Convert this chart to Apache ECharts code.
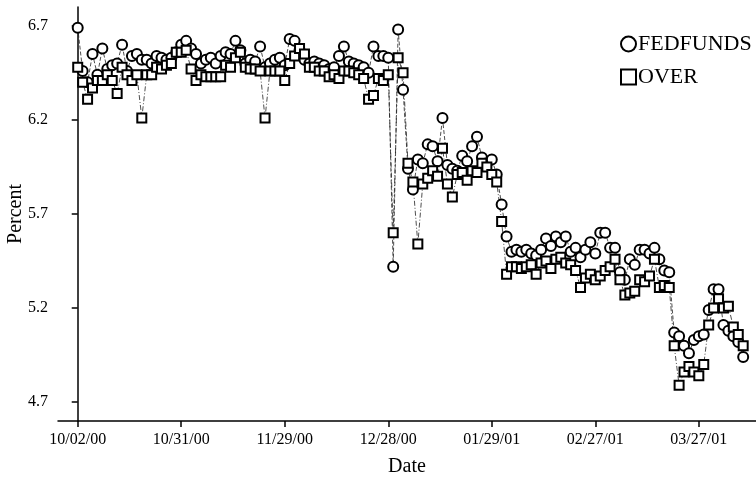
<!DOCTYPE html>
<html>
<head>
<meta charset="utf-8">
<script src="https://cdn.jsdelivr.net/npm/echarts@6/dist/echarts.min.js"></script>
<style>html,body{margin:0;padding:0;background:#fff;}#c{width:756px;height:477px;}</style>
</head>
<body>
<div id="c"></div>
<script>
// Observation index of each tick and its date label
const tickIndex = [0, 21, 42, 63, 84, 105, 126];
const tickLabels = ["10/02/00", "10/31/00", "11/29/00", "12/28/00", "01/29/01", "02/27/01", "03/27/01"];
const yTicks = [4.7, 5.2, 5.7, 6.2, 6.7];

// Daily observations (one value per trading day, starting 10/02/00)
const fedfunds = [
6.69,6.46,6.40,6.55,6.44,6.58,6.47,6.49,6.50,6.60,
6.46,6.54,6.55,6.52,6.52,6.50,6.54,6.53,6.52,6.53,
6.56,6.60,6.62,6.58,6.55,6.50,6.52,6.53,6.50,6.54,
6.56,6.55,6.62,6.57,6.50,6.52,6.51,6.59,6.48,6.50,
6.52,6.53,6.49,6.63,6.62,6.57,6.52,6.50,6.51,6.50,
6.49,6.47,6.48,6.54,6.59,6.51,6.50,6.49,6.48,6.45,
6.59,6.54,6.54,6.53,5.42,6.68,6.36,5.94,5.83,5.99,
5.97,6.07,6.06,5.98,6.21,5.96,5.94,5.93,6.01,5.98,
6.06,6.11,6.00,5.97,5.99,5.91,5.75,5.58,5.50,5.51,
5.50,5.51,5.49,5.48,5.51,5.57,5.53,5.58,5.55,5.58,
5.50,5.52,5.47,5.51,5.55,5.49,5.60,5.60,5.52,5.52,
5.39,5.35,5.46,5.43,5.51,5.51,5.49,5.52,5.46,5.40,
5.39,5.07,5.05,5.00,4.96,5.03,5.05,5.06,5.19,5.30,
5.30,5.11,5.08,5.05,5.02,4.94];
const over = [
6.48,6.40,6.31,6.37,6.41,6.41,6.44,6.41,6.34,6.48,
6.44,6.41,6.44,6.21,6.44,6.44,6.48,6.47,6.49,6.50,
6.56,6.56,6.57,6.47,6.41,6.44,6.43,6.43,6.43,6.43,
6.49,6.48,6.53,6.56,6.48,6.47,6.47,6.46,6.21,6.46,
6.46,6.46,6.41,6.50,6.54,6.58,6.55,6.48,6.48,6.46,
6.46,6.43,6.44,6.42,6.46,6.46,6.45,6.44,6.42,6.31,
6.33,6.42,6.41,6.44,5.60,6.53,6.45,5.97,5.87,5.54,
5.86,5.89,5.93,5.90,6.05,5.86,5.79,5.91,5.92,5.88,
5.93,5.92,5.97,5.95,5.91,5.87,5.66,5.38,5.42,5.42,
5.41,5.42,5.43,5.38,5.44,5.45,5.41,5.46,5.47,5.44,
5.43,5.40,5.31,5.36,5.38,5.35,5.37,5.40,5.42,5.46,
5.35,5.27,5.28,5.29,5.35,5.34,5.37,5.46,5.31,5.32,
5.31,5.00,4.79,4.86,4.89,4.86,4.84,4.90,5.11,5.20,
5.25,5.20,5.21,5.10,5.06,5.00];

const FONT = '"Liberation Serif", "DejaVu Serif", serif';
const chart = echarts.init(document.getElementById('c'));
chart.setOption({
  animation: false,
  backgroundColor: '#fff',
  grid: { left: 58, right: 0, top: 7, bottom: 56, containLabel: false, outerBoundsMode: 'none' },
  legend: {
    orient: 'vertical', left: 615, top: 28, itemGap: 11,
    itemWidth: 15, itemHeight: 15,
    textStyle: { fontFamily: FONT, fontSize: 22, color: '#000', padding: [0, 0, 0, -3] },
    lineStyle: { opacity: 0 },
    data: [
      { name: 'FEDFUNDS', icon: 'emptyCircle' },
      { name: 'OVER', icon: 'emptyRect' }
    ]
  },
  xAxis: {
    type: 'value', min: -4, max: 137.6,
    name: 'Date', nameLocation: 'middle', nameGap: 36, nameMoveOverlap: false,
    nameTextStyle: { fontFamily: FONT, fontSize: 20, color: '#000' },
    axisLine: { lineStyle: { color: '#000', width: 1.5 } },
    axisTick: { customValues: tickIndex, length: 6, lineStyle: { color: '#000', width: 1.5 } },
    axisLabel: { customValues: tickIndex, fontFamily: FONT, fontSize: 16, color: '#000', margin: 11,
      formatter: v => tickLabels[tickIndex.indexOf(Math.round(v))] || '' },
    splitLine: { show: false }
  },
  yAxis: {
    type: 'value', min: 4.6, max: 6.8,
    name: 'Percent', nameLocation: 'middle', nameGap: 32, nameRotate: 90, nameMoveOverlap: false,
    nameTextStyle: { fontFamily: FONT, fontSize: 20, color: '#000' },
    axisLine: { show: true, lineStyle: { color: '#000', width: 1.5 } },
    axisTick: { show: true, customValues: yTicks, length: 6, lineStyle: { color: '#000', width: 1.5 } },
    axisLabel: { customValues: yTicks, fontFamily: FONT, fontSize: 16, color: '#000', margin: 10,
      formatter: v => v.toFixed(1) },
    splitLine: { show: false }
  },
  series: [
    {
      name: 'FEDFUNDS', type: 'line',
      data: fedfunds.map((v, i) => [i, v]),
      symbol: 'emptyCircle', symbolSize: 10,
      itemStyle: { color: '#000', borderColor: '#000', borderWidth: 0.8 },
      lineStyle: { color: '#222', width: 0.8, type: [4, 2] }
    },
    {
      name: 'OVER', type: 'line',
      data: over.map((v, i) => [i, v]),
      symbol: 'emptyRect', symbolSize: 9,
      itemStyle: { color: '#000', borderColor: '#000', borderWidth: 0.8 },
      lineStyle: { color: '#222', width: 0.8, type: [5, 2, 1, 2] }
    }
  ]
});
</script>
</body>
</html>
